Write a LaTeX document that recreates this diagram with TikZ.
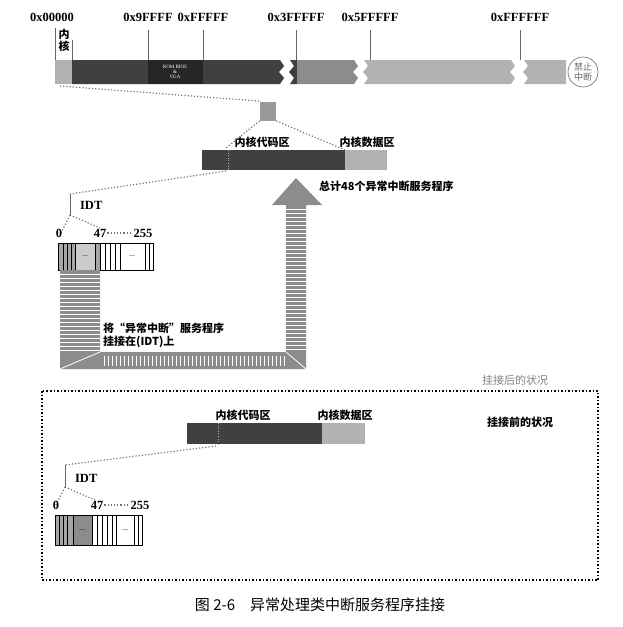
\documentclass[tikz,border=0pt]{standalone}
\usepackage{fontspec}
\setmainfont{Liberation Serif}
\newfontfamily\cjk{Noto Sans CJK SC}
\usetikzlibrary{positioning}
\tikzset{every picture/.style={line width=0.75pt}}
\tikzset{
  hexlbl/.style={inner sep=0.75pt,font=\bfseries\fontsize{12.5}{14}\selectfont},
  cnlbl/.style={inner sep=0.75pt,font=\cjk\bfseries\fontsize{11}{13}\selectfont},
  dotline/.style={dotted,color=black!55,line width=1.2pt},
  darkseg/.style={fill=black!75,draw=none},
  lightseg/.style={fill=black!30,draw=none},
  midseg/.style={fill=black!45,draw=none},
  stripe/.style={fill=black!45,draw=none}
}
\begin{document}
\begin{tikzpicture}[x=1pt,y=1pt,yscale=-1,xscale=1]
\useasboundingbox (0,0) rectangle (623,627);

% memory bar
\fill [lightseg] (55,60) rectangle (72,84);
\fill [darkseg] (72,60) -- (280,60) -- (284,66) -- (279,72) -- (284,78) -- (280,84) -- (72,84) -- cycle;
\fill [black!85] (148,60) rectangle (203,84);
\node [font=\fontsize{5}{5}\selectfont,text=white,align=center,inner sep=0pt] (rom) at (175,72) {ROM BIOS\\\&\\VGA};
\fill [darkseg] (290,60) -- (297,60) -- (297,84) -- (290,84) -- (294,78) -- (289,72) -- (294,66) -- cycle;
\fill [midseg] (297,60) -- (354,60) -- (358,66) -- (353,72) -- (358,78) -- (354,84) -- (297,84) -- cycle;
\fill [lightseg] (364,60) -- (511,60) -- (515,66) -- (510,72) -- (515,78) -- (511,84) -- (364,84) -- (368,78) -- (363,72) -- (368,66) -- cycle;
\fill [lightseg] (524,60) -- (566,60) -- (566,84) -- (524,84) -- (528,78) -- (523,72) -- (528,66) -- cycle;
\node [draw=black!50,circle,minimum size=30pt,inner sep=0pt,align=center,font=\cjk\fontsize{9}{10}\selectfont,text=black!60] (stop) at (583,72) {禁止\\中断};

% address ticks
\foreach \x/\t in {148/0x9FFFF,203/0xFFFFF,296/0x3FFFFF,370/0x5FFFFF,520/0xFFFFFF}{
  \draw [black!60,line width=0.5pt] (\x,30) -- (\x,60);
  \node [hexlbl] at (\x,17) {\t};
}
\node [hexlbl] (a0) at (52,17) {0x00000};
\draw [black!60,line width=0.5pt] (55,28) -- (55,60);
\draw [black!60,line width=0.5pt] (72,40) -- (72,60);
\node [cnlbl,align=center,font=\cjk\bfseries\fontsize{11}{12}\selectfont] (kern) at (64,40) {内\\核};

% zoom to kernel
\node [fill=black!40,minimum width=16pt,minimum height=19pt,inner sep=0pt] (blk) at (268,111) {};
\coordinate (kA) at (60,86);
\draw [dotline] (kA) -- (blk.north west);

% kernel bar (after)
\fill [darkseg] (202,150) rectangle (345,170);
\fill [lightseg] (345,150) rectangle (387,170);
\draw [dotline,white!70!black,line width=0.6pt] (228,150) -- (228,170);
\node [cnlbl] (code1) at (262,142) {内核代码区};
\node [cnlbl] (data1) at (367,142) {内核数据区};
\draw [dotline] (blk.south west) -- (226,148);
\draw [dotline] (blk.south east) -- (345,150);
\node [cnlbl,anchor=west] (total) at (318,186) {总计48个异常中断服务程序};

% IDT (after)
\coordinate (i1) at (70,194);
\draw [dotline] (226,171) -- (i1);
\draw [black!60,line width=0.5pt] (i1) -- (70,215);
\node [hexlbl,anchor=west] (idt1) at (79,205) {IDT};
\draw [dotline] (70,215) -- (60,235);
\draw [dotline] (70,215) -- (100,228);
\node [hexlbl] (n0a) at (59,233) {0};
\node [hexlbl] (n47a) at (100,233) {47};
\node [hexlbl] (n255a) at (143,233) {255};
\draw [dotline] (n47a) -- (n255a);
\fill [black!35] (58,243) rectangle (100,270);
\fill [black!20] (75,243) rectangle (95,270);
\draw [line width=0.6pt] (58,243) rectangle (153,270);
\foreach \x in {63,67,71,75,95,100,105,110,115,120,145,149}
  \draw [line width=0.6pt] (\x,243) -- (\x,270);
\node [font=\fontsize{8}{8}\selectfont] at (85,256) {...};
\node [font=\fontsize{8}{8}\selectfont] at (132,256) {...};

% big hooking arrow
\fill [stripe] (60,270) -- (100,270) -- (100,352) -- (286,352) -- (286,205) -- (272,205) -- (296,178) -- (322,205) -- (306,205) -- (306,369) -- (60,369) -- cycle;
\foreach \y in {274,278,...,350}
  \draw [white,line width=1pt] (60,\y) -- (100,\y);
\foreach \y in {209,213,...,350}
  \draw [white,line width=1pt] (286,\y) -- (306,\y);
\foreach \x in {104,108,...,284}
  \draw [white,line width=1pt] (\x,356) -- (\x,366);
\draw [white,line width=0.8pt] (60,369) -- (100,352);
\draw [white,line width=0.8pt] (306,369) -- (286,352);
\node [cnlbl,anchor=west,align=left] (hook) at (102,335) {将“异常中断”服务程序\\挂接在(IDT)上};

% before box
\node [cnlbl,text=black!50,font=\cjk\fontsize{11}{13}\selectfont] (after) at (515,380) {挂接后的状况};
\draw [dotted,line width=1.5pt] (42,391) rectangle (598,580);
\node [cnlbl] (before) at (520,422) {挂接前的状况};

\fill [darkseg] (187,423) rectangle (322,444);
\fill [lightseg] (322,423) rectangle (365,444);
\draw [white!70!black,line width=0.6pt,dotted] (218,423) -- (218,444);
\node [cnlbl] (code2) at (243,415) {内核代码区};
\node [cnlbl] (data2) at (345,415) {内核数据区};

\coordinate (i2) at (65,465);
\draw [dotline] (216,446) -- (i2);
\draw [black!60,line width=0.5pt] (i2) -- (65,487);
\node [hexlbl,anchor=west] (idt2) at (74,478) {IDT};
\draw [dotline] (65,487) -- (56,505);
\draw [dotline] (65,487) -- (95,500);
\node [hexlbl] (n0b) at (56,505) {0};
\node [hexlbl] (n47b) at (97,505) {47};
\node [hexlbl] (n255b) at (140,505) {255};
\draw [dotline] (n47b) -- (n255b);
\fill [black!35] (55,515) rectangle (92,545);
\fill [black!45] (73,515) rectangle (92,545);
\draw [line width=0.6pt] (55,515) rectangle (142,545);
\foreach \x in {59,63,67,73,92,97,102,107,112,116,134,138}
  \draw [line width=0.6pt] (\x,515) -- (\x,545);
\node [font=\fontsize{8}{8}\selectfont] at (82,530) {...};
\node [font=\fontsize{8}{8}\selectfont] at (125,530) {...};

% caption
\node [font=\cjk\fontsize{15}{17}\selectfont] (cap) at (320,605) {图 2-6\quad 异常处理类中断服务程序挂接};
\end{tikzpicture}
\end{document}
